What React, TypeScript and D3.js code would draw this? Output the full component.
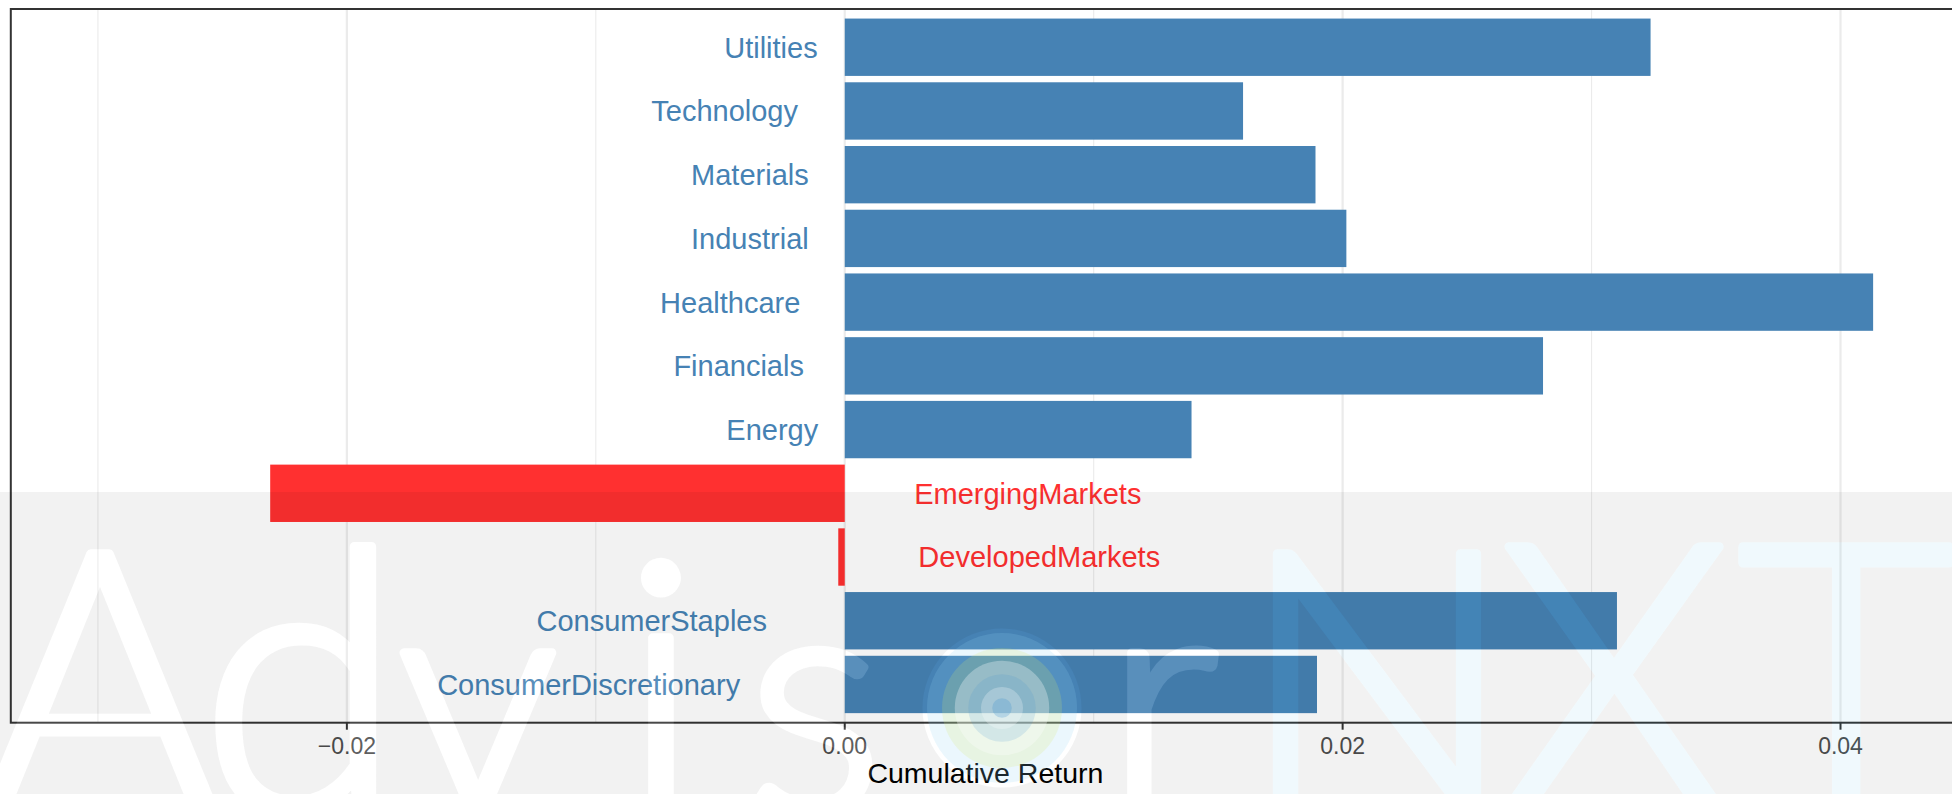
import React, { useMemo } from 'react';
import * as d3 from 'd3';

// ---------- data ----------
const categories = [
  'ConsumerDiscretionary',
  'ConsumerStaples',
  'DevelopedMarkets',
  'EmergingMarkets',
  'Energy',
  'Financials',
  'Healthcare',
  'Industrial',
  'Materials',
  'Technology',
  'Utilities',
];
const returns = [0.01897, 0.03102, -0.00026, -0.02308, 0.01393, 0.02805, 0.04131, 0.02015, 0.01891, 0.016, 0.03237];
const majorTicks = [-0.02, 0, 0.02, 0.04];
const minorTicks = [-0.03, -0.01, 0.01, 0.03];
const xDomain = [-0.0335, 0.0448];
const xTitle = 'Cumulative Return';

// ---------- layout ----------
const W = 1952;
const H = 794;
const panel = { left: 10.8, top: 9, right: 1960, bottom: 722.7 };
const POS = '#4682B4';
const NEG = '#FF3030';
const FONT = "'Liberation Sans', Arial, Helvetica, sans-serif";
const LABEL_SIZE = 29;

const wmBandTop = 492;
const wmBaseline = 812;
const wmLetters = [
  { ch: 'A', x: 100, size: 365, kind: 'white' },
  { ch: 'd', x: 301, size: 365, kind: 'white' },
  { ch: 'v', x: 478, size: 320, kind: 'white' },
  { ch: 'i', x: 661, size: 350, kind: 'white' },
  { ch: 's', x: 815, size: 320, kind: 'white' },
  { ch: 'r', x: 1162, size: 320, kind: 'white' },
  { ch: 'N', x: 1377, size: 365, kind: 'cyan' },
  { ch: 'X', x: 1614, size: 375, kind: 'cyan' },
  { ch: 'T', x: 1846, size: 375, kind: 'cyan' },
];
const logo = { cx: 1002, cy: 708, r: 75 };
const wmStroke = 9;

let ctx: CanvasRenderingContext2D | null = null;
function textWidth(s: string, size: number) {
  if (!ctx) {
    const c = document.createElement('canvas');
    ctx = c.getContext('2d');
  }
  if (!ctx) return s.length * size * 0.5;
  ctx.font = `${size}px 'Liberation Sans', Arial, sans-serif`;
  return ctx.measureText(s).width;
}

export default function App() {
  const x = useMemo(
    () => d3.scaleLinear().domain(xDomain).range([panel.left, panel.right]),
    []
  );
  const y = useMemo(
    () =>
      d3
        .scaleBand<string>()
        .domain(categories.slice().reverse())
        .range([panel.top, panel.bottom])
        .paddingInner(0.1)
        .paddingOuter(0.15),
    []
  );
  const fmt = d3.format('.2f');
  const x0 = x(0);

  const wmFont = "Lato, 'Liberation Sans', sans-serif";
  const wmWeight = 300;
  const whites = wmLetters.filter((l) => l.kind === 'white');
  const cyans = wmLetters.filter((l) => l.kind === 'cyan');

  const letterEls = (arr: typeof wmLetters, prefix: string) =>
    arr.map((l, i) => (
      <text key={prefix + i} x={l.x} y={wmBaseline} fontSize={l.size} textAnchor="middle">
        {l.ch}
      </text>
    ));

  return (
    <div style={{ position: 'fixed', left: 0, top: 0, width: W, height: H, overflow: 'hidden' }}>
      <svg width={W} height={H} style={{ display: 'block' }}>
        <defs>
          <mask id="wmMask" maskUnits="userSpaceOnUse" x={0} y={0} width={W} height={H}>
            <rect x={0} y={0} width={W} height={H} fill="white" />
            <g
              fill="black"
              stroke="black"
              strokeWidth={wmStroke}
              strokeLinejoin="round"
              fontFamily={wmFont}
              fontWeight={wmWeight}
            >
              {letterEls(wmLetters, 'm')}
              <circle cx={logo.cx} cy={logo.cy} r={logo.r} />
            </g>
          </mask>
        </defs>
        <rect x={0} y={0} width={W} height={H} fill="#ffffff" />

        {/* grid */}
        {minorTicks.map((t) => (
          <line key={'mi' + t} x1={x(t)} x2={x(t)} y1={panel.top} y2={panel.bottom} stroke="#EBEBEB" strokeWidth={1.1} />
        ))}
        {majorTicks.map((t) => (
          <line key={'ma' + t} x1={x(t)} x2={x(t)} y1={panel.top} y2={panel.bottom} stroke="#EBEBEB" strokeWidth={2.2} />
        ))}

        {/* bars */}
        {categories.map((c, i) => {
          const v = returns[i];
          const bx = Math.min(x(v), x0);
          const bw = Math.abs(x(v) - x0);
          return (
            <rect key={c} x={bx} y={y(c)} width={bw} height={y.bandwidth()} fill={v >= 0 ? POS : NEG} />
          );
        })}

        {/* labels */}
        {categories.map((c, i) => {
          const v = returns[i];
          const w = textWidth(c, LABEL_SIZE);
          const cy = (y(c) as number) + y.bandwidth() / 2;
          const sx = v >= 0 ? x0 + 7.5 - 1.37 * w : x0 + 3.5 + 0.29 * w;
          return (
            <text
              key={'l' + c}
              x={sx}
              y={cy + LABEL_SIZE * 0.358}
              fontFamily={FONT}
              fontSize={LABEL_SIZE}
              fill={v >= 0 ? POS : NEG}
              textAnchor="start"
            >
              {c}
            </text>
          );
        })}

        {/* panel border */}
        <rect
          x={panel.left}
          y={panel.top}
          width={panel.right - panel.left}
          height={panel.bottom - panel.top}
          fill="none"
          stroke="#333333"
          strokeWidth={2}
        />

        {/* axis ticks + labels */}
        {majorTicks.map((t) => (
          <g key={'t' + t}>
            <line x1={x(t)} x2={x(t)} y1={panel.bottom} y2={panel.bottom + 7} stroke="#333333" strokeWidth={2} />
            <text
              x={x(t)}
              y={panel.bottom + 31.5}
              textAnchor="middle"
              fontFamily={FONT}
              fontSize={23}
              fill="#4D4D4D"
            >
              {fmt(t)}
            </text>
          </g>
        ))}
        <text
          x={(panel.left + panel.right) / 2}
          y={783}
          textAnchor="middle"
          fontFamily={FONT}
          fontSize={28.5}
          fill="#000000"
        >
          {xTitle}
        </text>

        {/* watermark overlay */}
        <rect x={0} y={wmBandTop} width={W} height={H - wmBandTop} fill="#000000" fillOpacity={0.05} mask="url(#wmMask)" />
        <g
          opacity={0.1}
          fill="#ffffff"
          stroke="#ffffff"
          strokeWidth={wmStroke}
          strokeLinejoin="round"
          fontFamily={wmFont}
          fontWeight={wmWeight}
        >
          {letterEls(whites, 'w')}
        </g>
        <g
          opacity={0.06}
          fill="#1AA7E0"
          stroke="#1AA7E0"
          strokeWidth={wmStroke}
          strokeLinejoin="round"
          fontFamily={wmFont}
          fontWeight={wmWeight}
        >
          {letterEls(cyans, 'c')}
        </g>
        <g>
          <circle cx={logo.cx} cy={logo.cy} r={logo.r} fill="#8FD3F2" fillOpacity={0.18} />
          <circle cx={logo.cx} cy={logo.cy} r={logo.r * 0.8} fill="#D9E96B" fillOpacity={0.18} />
          <circle cx={logo.cx} cy={logo.cy} r={logo.r * 0.63} fill="#ffffff" fillOpacity={0.3} />
          <circle cx={logo.cx} cy={logo.cy} r={logo.r * 0.45} fill="#3D8FD0" fillOpacity={0.15} />
          <circle cx={logo.cx} cy={logo.cy} r={logo.r * 0.28} fill="#ffffff" fillOpacity={0.25} />
          <circle cx={logo.cx} cy={logo.cy} r={logo.r * 0.13} fill="#3D8FD0" fillOpacity={0.25} />
        </g>
      </svg>
    </div>
  );
}
